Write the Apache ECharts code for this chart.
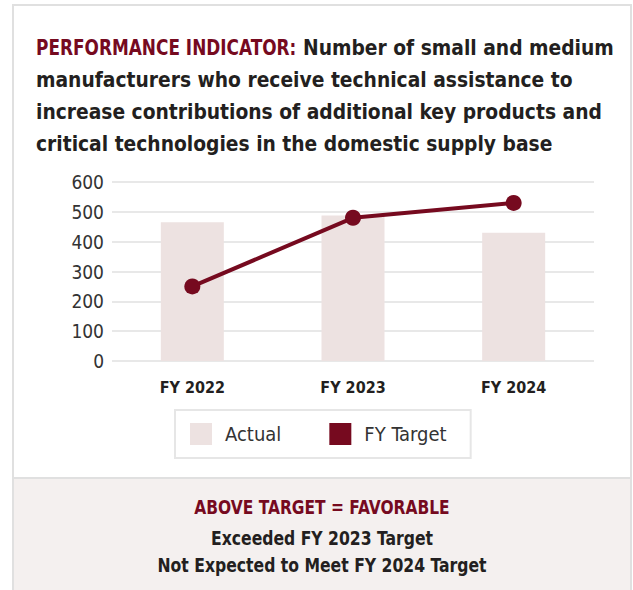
<!DOCTYPE html>
<html>
<head>
<meta charset="utf-8">
<script src="https://cdn.jsdelivr.net/npm/echarts@6/dist/echarts.min.js"></script>
<style>
  html, body { margin: 0; padding: 0; background: #ffffff; }
  #chart { width: 633px; height: 590px; }
</style>
</head>
<body>
<div id="chart"></div>
<script>
// values
const categories = ['FY 2022', 'FY 2023', 'FY 2024']
const actualValues = [465, 488, 430]
const targetValues = [250, 480, 530]
const titleLead = 'PERFORMANCE INDICATOR:'
const titleLines = [
  'Number of small and medium',
  'manufacturers who receive technical assistance to',
  'increase contributions of additional key products and',
  'critical technologies in the domestic supply base',
]
const footerHead = 'ABOVE TARGET = FAVORABLE'
const footerLines = [
  'Exceeded FY 2023 Target',
  'Not Expected to Meet FY 2024 Target',
]

const DARK_RED = '#760a1f'
const BAR = '#ede2e1'
const TEXT = '#231f20'
const condensed = "'Liberation Sans Narrow', 'DejaVu Sans Condensed', 'Roboto Condensed', sans-serif"

const chart = echarts.init(document.getElementById('chart'), null, { renderer: 'svg' })

// condensed text drawn as graphic text squeezed a little horizontally
function squeezed(text, x, y, sx, opts) {
  return {
    type: 'text',
    x: x,
    y: y,
    scaleX: sx,
    style: Object.assign({
      text: text,
      verticalAlign: 'top',
      fontFamily: condensed,
      fontWeight: 'bold',
      fontSize: 22,
      lineHeight: 32,
      fill: TEXT,
    }, opts),
  }
}

const TITLE_Y = 31
const titleTexts = [
  squeezed(titleLead, 36, TITLE_Y, 0.855, { fill: DARK_RED }),
  squeezed(titleLines[0], 303, TITLE_Y, 0.945, {}),
  squeezed(titleLines.slice(1).join('\n'), 36, TITLE_Y + 32, 0.945, {}),
]

const footerTexts = [
  squeezed(footerHead, 322, 507, 0.86, { fill: DARK_RED, fontSize: 20, align: 'center', verticalAlign: 'middle' }),
  squeezed(footerLines[0], 322, 538, 0.915, { fontSize: 19, align: 'center', verticalAlign: 'middle' }),
  squeezed(footerLines[1], 322, 565, 0.915, { fontSize: 19, align: 'center', verticalAlign: 'middle' }),
]

chart.setOption({
  animation: false,
  backgroundColor: '#ffffff',
  grid: { left: 112, right: 39, top: 182, bottom: 229 },
  legend: {
    left: 175,
    top: 410,
    padding: [13, 24, 13, 15],
    borderColor: '#e6e6e6',
    borderWidth: 2,
    itemWidth: 22,
    itemHeight: 22,
    itemGap: 48,
    icon: 'rect',
    data: ['Actual', 'FY Target'],
    textStyle: {
      fontFamily: condensed,
      fontSize: 20,
      color: '#333333',
      padding: [0, 0, 0, 8],
    },
  },
  xAxis: {
    type: 'category',
    data: categories,
    axisLine: { show: false },
    axisTick: { show: false },
    axisLabel: {
      margin: 18,
      fontFamily: condensed,
      fontWeight: 'bold',
      fontSize: 16,
      color: TEXT,
    },
  },
  yAxis: {
    type: 'value',
    min: 0,
    max: 600,
    interval: 100,
    axisLine: { show: false },
    axisTick: { show: false },
    axisLabel: {
      margin: 8,
      fontFamily: condensed,
      fontSize: 19,
      color: '#333333',
    },
    splitLine: { lineStyle: { color: '#e8e8e8', width: 2 } },
  },
  series: [
    {
      name: 'Actual',
      type: 'bar',
      data: actualValues,
      barWidth: 63,
      itemStyle: { color: BAR },
      emphasis: { disabled: true },
    },
    {
      name: 'FY Target',
      type: 'line',
      data: targetValues,
      symbol: 'circle',
      symbolSize: 16,
      lineStyle: { color: DARK_RED, width: 4 },
      itemStyle: { color: DARK_RED },
      emphasis: { disabled: true },
    },
  ],
  graphic: [
    {
      type: 'rect',
      z: -10,
      shape: { x: 13, y: 5, width: 618, height: 600 },
      style: { fill: '#ffffff', stroke: '#e0e0e0', lineWidth: 2 },
    },
    {
      type: 'rect',
      z: -9,
      shape: { x: 13, y: 478, width: 618, height: 120 },
      style: { fill: '#f4f0ef', stroke: '#e0e0e0', lineWidth: 2 },
    },
    ...titleTexts,
    ...footerTexts,
  ],
})
</script>
</body>
</html>
